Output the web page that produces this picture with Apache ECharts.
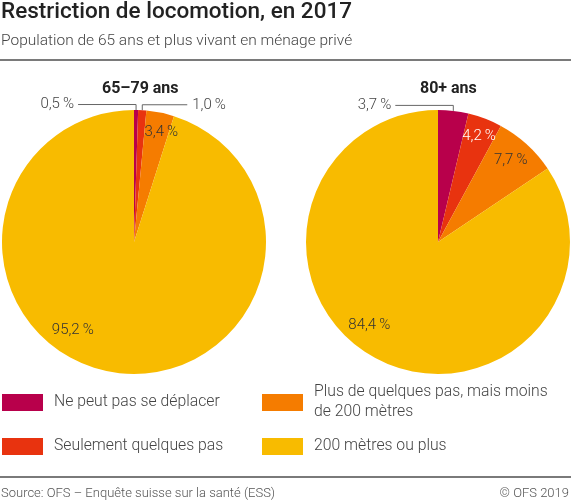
<!DOCTYPE html>
<html>
	<head>
		<meta charset="UTF-8">
		<title>Restriction de locomotion, en 2017</title>
		<style>
			html, body { margin: 0; padding: 0; background: #fff; }
			#chart { width: 571px; height: 504px; }
		</style>
	</head>
	<body>
		<div id="chart"></div>
		<script src="https://cdn.jsdelivr.net/npm/echarts@6/dist/echarts.min.js"></script>
		<script>
			// categories and values
			var categories = ['Ne peut pas se déplacer', 'Seulement quelques pas', 'Plus de quelques pas, mais moins de 200 mètres', '200 mètres ou plus'];
			var groups = ['65–79 ans', '80+ ans'];
			var values6579 = [0.5, 1.0, 3.4, 95.2];
			var values80 = [3.7, 4.2, 7.7, 84.4];

			var colors = ['#b8004b', '#e8330f', '#f57c00', '#f8bb00'];
			var fontFamily = 'Roboto, "Noto Sans", sans-serif';

			var fmt = function (v) {
				return v.toFixed(1).replace('.', ',') + '\u2009%';
			};

			// label placement: offsets for inside labels, leader lines for small slices
			var labelLayoutFor = function (offsets, leaders) {
				return function (params) {
					var i = params.dataIndex;
					var lead = leaders[i];
					if (lead && params.labelLinePoints) {
						var p0 = params.labelLinePoints[0];
						var y = p0[1] - 5.5;
						var x = p0[0] + lead;
						return {
							x: x + (lead < 0 ? -4 : 5),
							y: y,
							align: lead < 0 ? 'right' : 'left',
							verticalAlign: 'middle',
							labelLinePoints: [p0, [p0[0], y], [x, y]]
						};
					}
					var r = params.labelRect;
					var o = offsets[i] || [0, 0];
					return {
						x: r.x + r.width / 2 + o[0],
						y: r.y + r.height / 2 + o[1],
						align: 'center',
						verticalAlign: 'middle'
					};
				};
			};

			var buildData = function (values, outside, whiteIdx) {
				return values.map(function (v, i) {
					var item = { name: categories[i], value: v, itemStyle: { color: colors[i] } };
					if (outside.indexOf(i) >= 0) {
						item.label = { position: 'outside', color: '#444' };
						item.labelLine = { show: true };
					}
					if (i === whiteIdx) {
						item.label = { color: '#fff' };
					}
					return item;
				});
			};

			var pieBase = {
				type: 'pie',
				radius: 132,
				startAngle: 90,
				clockwise: true,
				avoidLabelOverlap: false,
				silent: true,
				itemStyle: { borderWidth: 0 },
				emphasis: { disabled: true },
				label: {
					show: true,
					position: 'inside',
					fontSize: 15,
					fontWeight: 300,
					fontFamily: fontFamily,
					color: '#333',
					formatter: function (p) { return fmt(p.value); }
				},
				labelLine: {
					show: false,
					length: 5,
					length2: 40,
					smooth: false,
					lineStyle: { color: '#666', width: 1 }
				}
			};

			var chart = echarts.init(document.getElementById('chart'), null, { renderer: 'canvas' });

			var legendText = function (pad) {
				return {
					fontSize: 15.75,
					fontWeight: 300,
					fontFamily: fontFamily,
					color: '#444',
					lineHeight: 20,
					padding: pad
				};
			};

			var option = {
				animation: false,
				backgroundColor: '#fff',
				textStyle: { fontFamily: fontFamily },
				title: [{
					text: 'Restriction de locomotion, en 2017',
					subtext: 'Population de 65 ans et plus vivant en ménage privé',
					left: 1,
					top: 0,
					padding: 0,
					itemGap: 7,
					textStyle: { fontSize: 22.5, fontWeight: 500, color: '#222', lineHeight: 25, fontFamily: fontFamily },
					subtextStyle: { fontSize: 15.5, fontWeight: 300, color: '#444', lineHeight: 19, fontFamily: fontFamily }
				}, {
					text: groups[0],
					left: 102,
					top: 79.5,
					padding: 0,
					textStyle: { fontSize: 16, fontWeight: 'bold', color: '#222', lineHeight: 18, fontFamily: fontFamily }
				}, {
					text: groups[1],
					left: 420,
					top: 80,
					padding: 0,
					textStyle: { fontSize: 16, fontWeight: 'bold', color: '#222', lineHeight: 18, fontFamily: fontFamily }
				}],
				legend: [{
					orient: 'vertical',
					left: 2,
					top: 392.5,
					padding: 0,
					itemGap: 24,
					itemWidth: 41,
					itemHeight: 17,
					icon: 'rect',
					selectedMode: false,
					textStyle: legendText([0, 0, 0, 6]),
					data: [categories[0], categories[1]]
				}, {
					orient: 'vertical',
					left: 262,
					top: 372.5,
					padding: 0,
					itemGap: 4,
					itemWidth: 41,
					itemHeight: 17,
					icon: 'rect',
					selectedMode: false,
					textStyle: legendText([0, 0, 0, 6]),
					formatter: function (name) {
						return name === categories[2] ? 'Plus de quelques pas, mais moins\nde 200 mètres' : name;
					},
					data: [
						{ name: categories[2], textStyle: legendText([20, 0, 0, 6]) },
						categories[3]
					]
				}],
				graphic: [
					{ type: 'line', shape: { x1: 0, y1: 60, x2: 571, y2: 60 }, style: { stroke: '#7a7a7a', lineWidth: 2 } },
					{ type: 'line', shape: { x1: 0, y1: 477, x2: 571, y2: 477 }, style: { stroke: '#7a7a7a', lineWidth: 2 } },
					{ type: 'text', left: 1, top: 487, style: { text: 'Source: OFS – Enquête suisse sur la santé (ESS)', fontSize: 13, fontWeight: 300, fill: '#555', fontFamily: fontFamily } },
					{ type: 'text', right: 2, top: 487, style: { text: '© OFS 2019', fontSize: 13, fontWeight: 300, fill: '#555', fontFamily: fontFamily } }
				],
				series: [
					echarts.util.merge({
						name: groups[0],
						center: [134, 242],
						data: buildData(values6579, [0, 1], -1),
						labelLayout: labelLayoutFor({ 2: [13.6, -42.6], 3: [-50.6, 20.1] }, { 0: -58, 1: 45 })
					}, pieBase),
					echarts.util.merge({
						name: groups[1],
						center: [438, 242],
						data: buildData(values80, [0], 1),
						labelLayout: labelLayoutFor({ 1: [16.5, -41.1], 2: [26.3, -30.7], 3: [-36.2, 22.5] }, { 0: -58 })
					}, pieBase)
				]
			};

			chart.setOption(option);
			window.addEventListener('resize', function () {
				chart.resize();
			});
		</script>
	</body>
</html>
